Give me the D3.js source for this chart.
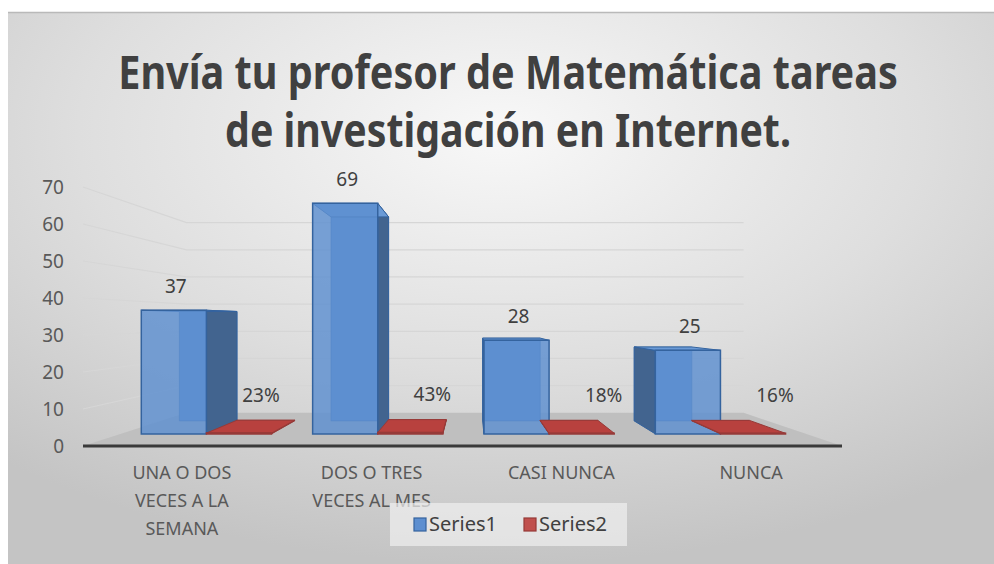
<!DOCTYPE html>
<html lang="es">
<head>
<meta charset="UTF-8">
<title>Envía tu profesor de Matemática tareas de investigación en Internet.</title>
<script src="https://d3js.org/d3.v7.min.js"></script>
<style>
  body { margin: 0; padding: 0; background: #fff; }
  svg { display: block; font-family: "Noto Sans", "Open Sans", sans-serif; }
</style>
</head>
<body>
<div id="chart"></div>
<script>
// data
const categories = ["UNA O DOS VECES A LA SEMANA", "DOS O TRES VECES AL MES", "CASI NUNCA", "NUNCA"];
const seriesNames = ["Series1", "Series2"];
const series1 = [37, 69, 28, 25];
const series2 = [0.23, 0.43, 0.18, 0.16];
const yTicks = [0, 10, 20, 30, 40, 50, 60, 70];
const titleLines = ["Envía tu profesor de Matemática tareas", "de investigación en Internet."];

const W = 994, H = 564;
const colors = { Series1: "#5d8fd0", Series2: "#c0504d" };
const strokes = { Series1: "#34639e", Series2: "#963a38" };
const sides = { Series1: "#42648f", Series2: "#9a3b39" };

const svg = d3.select("#chart").append("svg").attr("width", W).attr("height", H);

// background
const defs = svg.append("defs");
const bg = defs.append("radialGradient").attr("id", "bg")
  .attr("cx", "0.5").attr("cy", "0.22").attr("r", "0.78");
bg.append("stop").attr("offset", "0").attr("stop-color", "#f8f8f8");
bg.append("stop").attr("offset", "0.55").attr("stop-color", "#dedede");
bg.append("stop").attr("offset", "1").attr("stop-color", "#c4c4c4");
svg.append("rect").attr("x", 8).attr("y", 12).attr("width", W - 8).attr("height", H - 12)
  .attr("fill", "url(#bg)");
svg.append("line").attr("x1", 8).attr("x2", W).attr("y1", 12.5).attr("y2", 12.5)
  .attr("stroke", "#b9b9b9").attr("stroke-width", 1.5);

// title: squeeze horizontally so it reads like the narrow original face
const titleWidths = [780, 566];
titleLines.forEach((line, i) => {
  const g = svg.append("g");
  const t = g.append("text").attr("x", 0).attr("y", 0)
    .attr("text-anchor", "middle").attr("font-size", 46).attr("font-weight", "bold")
    .attr("fill", "#404040").text(line);
  const k = Math.min(1, titleWidths[i] / t.node().getComputedTextLength());
  g.attr("transform", `translate(508,${89 + i * 58}) scale(${k},1)`);
});

// simple one point perspective
const VP = [472, 321];
const project = (x, y, z) => [x + z * (VP[0] - x), y + z * (VP[1] - y)];
const zFloor = 0.266, zFront = 0.097, zBack = 0.201;

const x0 = d3.scaleBand().domain(categories).range([83, 842]).paddingInner(0.24).paddingOuter(0.12);
const x1 = d3.scaleBand().domain(seriesNames).range([0, x0.bandwidth()]);
const y = d3.scaleLinear().domain([0, 70]).range([446, 187]);

const poly = pts => pts.map(p => p.join(",")).join(" ");

// gridlines on side and back walls
const grid = svg.append("g");
yTicks.filter(t => t > 0).forEach(t => {
  const a = project(83, y(t), 0), b = project(83, y(t), zFloor), c = project(842, y(t), zFloor);
  grid.append("polyline").attr("points", poly([a, b, c]))
    .attr("fill", "none").attr("stroke", "#d6d6d6").attr("stroke-width", 1.2);
});

// floor
const fl = [project(83, y(0), 0), project(842, y(0), 0), project(842, y(0), zFloor), project(83, y(0), zFloor)];
svg.append("polygon").attr("points", poly(fl)).attr("fill", "#bfbfbf");
svg.append("line").attr("x1", 83).attr("x2", 842).attr("y1", y(0)).attr("y2", y(0))
  .attr("stroke", "#3a3a3a").attr("stroke-width", 3);

// y axis labels
svg.append("g").selectAll("text").data(yTicks).join("text")
  .attr("x", 64).attr("y", d => y(d) + 7).attr("text-anchor", "end")
  .attr("font-size", 19).attr("fill", "#595959").text(d => d);

// bars
const bars = [];
categories.forEach((c, i) => {
  bars.push({ cat: c, s: "Series1", v: series1[i], label: String(series1[i]) });
  bars.push({ cat: c, s: "Series2", v: series2[i], label: d3.format(".0%")(series2[i]) });
});

const gBars = svg.append("g");
bars.forEach(d => {
  const xa = x0(d.cat) + x1(d.s), xb = xa + x1.bandwidth();
  const yb = y(0), yt = y(d.v);
  const F = [project(xa, yb, zFront), project(xb, yb, zFront), project(xb, yt, zFront), project(xa, yt, zFront)];
  const B = [project(xa, yb, zBack), project(xb, yb, zBack), project(xb, yt, zBack), project(xa, yt, zBack)];
  const g = gBars.append("g");
  // back face, seen through the front
  g.append("polygon").attr("points", poly(B)).attr("fill", colors[d.s])
    .attr("stroke", strokes[d.s]).attr("stroke-width", 1).attr("stroke-opacity", 0.6);
  // side face
  if (xb < VP[0]) {
    g.append("polygon").attr("points", poly([F[1], B[1], B[2], F[2]]))
      .attr("fill", sides[d.s]).attr("stroke", strokes[d.s]);
  } else if (xa > VP[0]) {
    g.append("polygon").attr("points", poly([F[0], B[0], B[3], F[3]]))
      .attr("fill", sides[d.s]).attr("stroke", strokes[d.s]);
  }
  // top face
  g.append("polygon").attr("points", poly([F[3], F[2], B[2], B[3]]))
    .attr("fill", d.s === "Series1" ? "#6a9ad6" : "#b8413e").attr("stroke", strokes[d.s]);
  // front face
  g.append("polygon").attr("points", poly(F)).attr("fill", colors[d.s]).attr("fill-opacity", 0.82)
    .attr("stroke", strokes[d.s]).attr("stroke-width", 1.5);

  const cx = (F[0][0] + F[1][0]) / 2;
  const isPct = d.s === "Series2";
  gBars.append("text")
    .attr("x", cx + (isPct ? 22 : 2))
    .attr("y", F[3][1] - (isPct ? 31 : 17))
    .attr("text-anchor", "middle").attr("font-size", 19).attr("fill", "#404040")
    .text(d.label);
});

// category labels, wrapped
const gCat = svg.append("g");
categories.forEach(c => {
  const words = c.split(" ");
  const t = gCat.append("text").attr("text-anchor", "middle").attr("font-size", 18).attr("fill", "#595959");
  let line = [], lines = [];
  const probe = t.append("tspan");
  words.forEach(w => {
    line.push(w);
    probe.text(line.join(" "));
    if (probe.node().getComputedTextLength() > 132 && line.length > 1) {
      line.pop();
      lines.push(line.join(" "));
      line = [w];
    }
  });
  lines.push(line.join(" "));
  probe.remove();
  t.selectAll("tspan").data(lines).join("tspan")
    .attr("x", x0(c) + x0.bandwidth() / 2 + 4)
    .attr("y", (d, i) => 479 + i * 28)
    .text(d => d);
});

// legend
const lg = svg.append("g");
lg.append("rect").attr("x", 390).attr("y", 503).attr("width", 237).attr("height", 43)
  .attr("fill", "#efefef").attr("fill-opacity", 0.7);
const items = lg.selectAll("g").data(seriesNames).join("g")
  .attr("transform", (d, i) => `translate(${414 + i * 110},518)`);
items.append("rect").attr("width", 12).attr("height", 13)
  .attr("fill", d => colors[d]).attr("stroke", d => strokes[d]).attr("stroke-width", 1.2);
items.append("text").attr("x", 15).attr("y", 13).attr("font-size", 20).attr("fill", "#404040")
  .text(d => d);
</script>
</body>
</html>
